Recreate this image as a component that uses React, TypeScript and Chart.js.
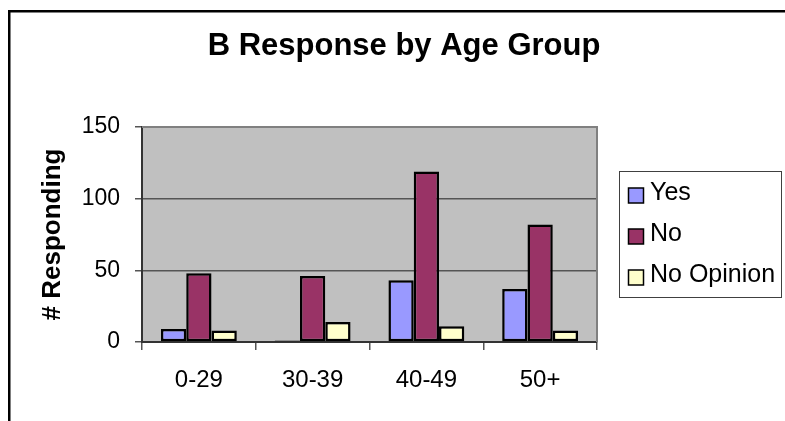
import React, { useEffect, useRef } from 'react';
import { Chart, registerables } from 'chart.js';

Chart.register(...registerables);

const categories = ['0-29', '30-39', '40-49', '50+'];
const seriesNames = ['Yes', 'No', 'No Opinion'];
const yesValues = [9, 1, 43, 37];
const noValues = [48, 46, 119, 82];
const noOpinionValues = [8, 14, 11, 8];
const yTicks = [0, 50, 100, 150];
const chartTitle = 'B Response by Age Group';
const yAxisTitle = '# Responding';
const seriesColors = ['#9999FF', '#993366', '#FFFFCC'];

const FONT = "'Liberation Sans', Arial, Helvetica, sans-serif";

const decorPlugin = {
  id: 'decor',
  beforeDraw(chart: any) {
    const { ctx, chartArea: a } = chart;
    ctx.save();
    ctx.fillStyle = '#ffffff';
    ctx.fillRect(0, 0, chart.width, chart.height);
    ctx.fillStyle = '#C0C0C0';
    ctx.fillRect(a.left, a.top, a.right - a.left, a.bottom - a.top);
    ctx.restore();
  },
  afterDraw(chart: any) {
    const { ctx, chartArea: a } = chart;
    ctx.save();
    // plot area top/right border
    ctx.strokeStyle = '#808080';
    ctx.lineWidth = 2;
    ctx.beginPath();
    ctx.moveTo(a.left, a.top);
    ctx.lineTo(a.right, a.top);
    ctx.lineTo(a.right, a.bottom);
    ctx.stroke();
    // outer chart frame
    ctx.strokeStyle = '#000';
    ctx.lineWidth = 2.5;
    ctx.beginPath();
    ctx.moveTo(9.25, chart.height + 5);
    ctx.lineTo(9.25, 11.25);
    ctx.lineTo(chart.width + 5, 11.25);
    ctx.stroke();
    // title
    ctx.fillStyle = '#000';
    ctx.font = `bold 31px ${FONT}`;
    ctx.textAlign = 'center';
    ctx.textBaseline = 'alphabetic';
    ctx.fillText(chartTitle, 404, 55);
    // legend
    ctx.strokeStyle = '#404040';
    ctx.lineWidth = 1;
    ctx.strokeRect(619.5, 171.5, 162, 126);
    ctx.font = `25px ${FONT}`;
    ctx.textAlign = 'left';
    chart.data.datasets.forEach((ds: any, i: number) => {
      const top = 188 + i * 41;
      ctx.fillStyle = ds.backgroundColor;
      ctx.fillRect(628.5, top, 15, 15);
      ctx.strokeStyle = '#000';
      ctx.lineWidth = 1.5;
      ctx.strokeRect(628.5, top, 15, 15);
      ctx.fillStyle = '#000';
      ctx.fillText(ds.label, 650, top + 12);
    });
    ctx.restore();
  },
};

export default function App() {
  const ref = useRef<HTMLCanvasElement | null>(null);
  useEffect(() => {
    if (!ref.current) return;
    const values = [yesValues, noValues, noOpinionValues];
    const chart = new Chart(ref.current, {
      type: 'bar',
      data: {
        labels: categories,
        datasets: seriesNames.map((name, i) => ({
          label: name,
          data: values[i],
          backgroundColor: seriesColors[i],
          borderColor: '#000',
          borderWidth: 2.5,
          borderSkipped: false,
          categoryPercentage: 0.667,
          barPercentage: 1.0,
        })),
      },
      options: {
        animation: false,
        responsive: false,
        devicePixelRatio: 1,
        layout: { padding: { top: 127, right: 188, bottom: 0, left: 0 } },
        plugins: {
          legend: { display: false },
          title: { display: false },
          tooltip: { enabled: false },
        },
        scales: {
          x: {
            grid: {
              offset: true,
              drawOnChartArea: false,
              drawTicks: true,
              tickLength: 8,
              color: '#555',
              lineWidth: 1.5,
            },
            border: { display: true, color: '#333', width: 2 },
            ticks: { color: '#000', font: { size: 24, family: FONT }, padding: 16 },
            afterFit(s: any) {
              s.height = 79;
            },
          },
          y: {
            min: 0,
            max: 150,
            afterBuildTicks(s: any) {
              s.ticks = yTicks.map((v) => ({ value: v }));
            },
            ticks: { color: '#000', font: { size: 23, family: FONT }, padding: 15 },
            grid: { color: '#555', lineWidth: 1.5, tickLength: 7, drawTicks: true },
            border: { display: true, color: '#333', width: 2 },
            title: {
              display: true,
              text: yAxisTitle,
              color: '#000',
              font: { size: 26, weight: 'bold', family: FONT },
              padding: { top: 37, bottom: 0 },
            },
            afterFit(s: any) {
              s.width = 142;
            },
          },
        },
      },
      plugins: [decorPlugin],
    } as any);
    return () => chart.destroy();
  }, []);
  return (
    <div style={{ position: 'fixed', left: 0, top: 0, width: 785, height: 421 }}>
      <canvas ref={ref} width={785} height={421} style={{ display: 'block' }} />
    </div>
  );
}
